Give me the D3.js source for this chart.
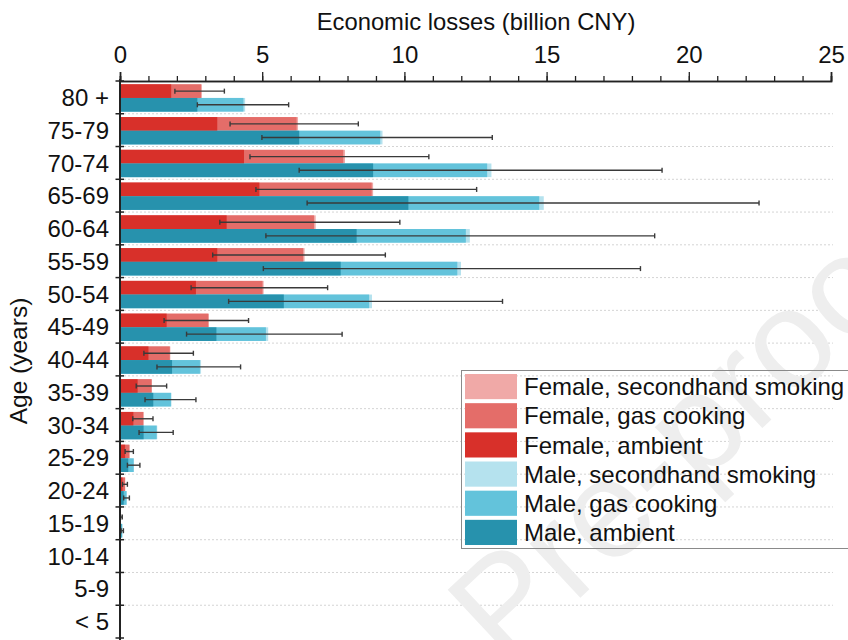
<!DOCTYPE html>
<html><head><meta charset="utf-8">
<script src="https://cdn.jsdelivr.net/npm/d3@7"></script>
<style>body{margin:0;background:#fff}svg{display:block}text{font-family:"Liberation Sans",Arial,sans-serif}</style>
</head><body>
<svg id="c" width="848" height="640"></svg>
<script>
const ages = ["80 +","75-79","70-74","65-69","60-64","55-59","50-54","45-49","40-44","35-39","30-34","25-29","20-24","15-19","10-14","5-9","< 5"];
// Female components (billion CNY)
const femaleAmbient = [1.80,3.42,4.36,4.90,3.75,3.42,2.67,1.64,1.00,0.62,0.47,0.18,0.09,0.02,0,0,0];
const femaleGas     = [1.05,2.79,3.49,3.95,3.07,3.02,2.34,1.46,0.75,0.49,0.35,0.15,0.09,0.015,0,0,0];
const femaleSHS     = [0.03,0.05,0.06,0.05,0.06,0.05,0.04,0.03,0.02,0.01,0.01,0.005,0,0,0,0,0];
const femaleLow     = [1.93,3.87,4.57,4.78,3.51,3.26,2.50,1.55,0.84,0.57,0.45,0.18,0.09,0.02,0,0,0];
const femaleHigh    = [3.67,8.38,10.86,12.54,9.84,9.33,7.30,4.52,2.58,1.64,1.16,0.47,0.26,0.08,0,0,0];
// Male components
const maleAmbient = [2.72,6.30,8.90,10.14,8.32,7.76,5.76,3.39,1.83,1.17,0.83,0.29,0.13,0.05,0,0,0];
const maleGas     = [1.62,2.85,4.01,4.60,3.84,4.10,3.00,1.74,0.98,0.62,0.46,0.19,0.10,0.03,0,0,0];
const maleSHS     = [0.06,0.08,0.15,0.16,0.14,0.13,0.10,0.08,0.04,0.02,0.02,0.01,0.005,0,0,0,0];
const maleLow     = [2.72,4.99,6.30,6.58,5.13,5.04,3.82,2.34,1.30,0.88,0.67,0.26,0.13,0.04,0,0,0];
const maleHigh    = [5.93,13.09,19.06,22.47,18.80,18.30,13.45,7.81,4.24,2.67,1.87,0.70,0.33,0.12,0,0,0];
const xTicks = [0,5,10,15,20,25];
const legendLabels = ["Female, secondhand smoking","Female, gas cooking","Female, ambient","Male, secondhand smoking","Male, gas cooking","Male, ambient"];
const colors = {
  Female:{ambient:"#d8302a",gas:"#e46d69",shs:"#f0a9a7"},
  Male:{ambient:"#2792ad",gas:"#63c3db",shs:"#b5e2ee"}
};
const legendColors = [colors.Female.shs,colors.Female.gas,colors.Female.ambient,colors.Male.shs,colors.Male.gas,colors.Male.ambient];

const svg = d3.select("#c");
const x = d3.scaleLinear().domain([0,25]).range([120,831]);
const y = d3.scaleBand().domain(ages).range([81,638]).padding(0);
const sub = d3.scaleBand().domain(["Female","Male"]).range([3.3,30.6]).padding(0);

// gridlines
svg.append("g").selectAll("line").data(ages.slice(0,-1)).join("line")
  .attr("x1",120).attr("x2",833)
  .attr("y1",d=>y(d)+y.bandwidth()).attr("y2",d=>y(d)+y.bandwidth())
  .attr("stroke","#d4d4d4").attr("stroke-width",1).attr("stroke-dasharray","2,2");

// watermark
svg.append("text").attr("transform","translate(505,668) rotate(-43)")
  .attr("font-size",140).attr("fill","#eeeeee").text("Pre-proof");

const rows = [];
ages.forEach((a,i)=>{
  rows.push({age:a,sex:"Female",ambient:femaleAmbient[i],gas:femaleGas[i],shs:femaleSHS[i],lo:femaleLow[i],hi:femaleHigh[i]});
  rows.push({age:a,sex:"Male",ambient:maleAmbient[i],gas:maleGas[i],shs:maleSHS[i],lo:maleLow[i],hi:maleHigh[i]});
});
const stack = d3.stack().keys(["ambient","gas","shs"]);
const layers = stack(rows);
const bars = svg.append("g");
[2,1,0].forEach(k=>{
  const layer = layers[k];
  bars.append("g").selectAll("rect").data(layer).join("rect")
    .attr("x",d=>x(0))
    .attr("width",d=>Math.max(0,x(d[1])-x(0)))
    .attr("y",d=>y(d.data.age)+sub(d.data.sex))
    .attr("height",sub.bandwidth())
    .attr("fill",d=>colors[d.data.sex][layer.key]);
});

// error bars
const eb = svg.append("g").attr("stroke","#3a3a3a").attr("stroke-width",1.4);
rows.filter(d=>d.hi>0).forEach(d=>{
  const cy = y(d.age)+sub(d.sex)+sub.bandwidth()/2;
  eb.append("line").attr("x1",x(d.lo)).attr("x2",x(d.hi)).attr("y1",cy).attr("y2",cy);
  eb.append("line").attr("x1",x(d.lo)).attr("x2",x(d.lo)).attr("y1",cy-2.5).attr("y2",cy+2.5);
  eb.append("line").attr("x1",x(d.hi)).attr("x2",x(d.hi)).attr("y1",cy-2.5).attr("y2",cy+2.5);
});

// top axis
const axTop = svg.append("g").attr("transform","translate(0,81)");
axTop.call(d3.axisTop(x).tickValues(d3.range(0,25.01,1)).tickSize(5).tickFormat(""));
axTop.append("g").call(d3.axisTop(x).tickValues(xTicks).tickSize(9).tickFormat(d3.format("d")).tickPadding(9));
axTop.selectAll("path.domain").attr("stroke","#222").attr("stroke-width",1.6);
axTop.selectAll("line").attr("stroke","#222").attr("stroke-width",1.3);
axTop.selectAll("text").attr("font-size",24).attr("fill","#111").attr("font-family","Liberation Sans, Arial, sans-serif");

svg.append("text").attr("x",476).attr("y",29.5).attr("text-anchor","middle")
  .attr("font-size",23.8).attr("fill","#111").text("Economic losses (billion CNY)");

// left axis
svg.append("line").attr("x1",120).attr("x2",120).attr("y1",79).attr("y2",640).attr("stroke","#222").attr("stroke-width",2);
svg.append("g").selectAll("line").data(ages.concat(["end"])).join("line")
  .attr("x1",115.5).attr("x2",124)
  .attr("y1",(d,i)=>81+i*y.step()).attr("y2",(d,i)=>81+i*y.step())
  .attr("stroke","#222").attr("stroke-width",1.5);
svg.append("g").selectAll("text").data(ages).join("text")
  .attr("x",109).attr("y",d=>y(d)+y.bandwidth()/2).attr("dy","0.36em")
  .attr("text-anchor","end").attr("font-size",24).attr("fill","#111").text(d=>d);
svg.append("text").attr("transform","translate(27,361) rotate(-90)").attr("text-anchor","middle")
  .attr("font-size",24.5).attr("fill","#111").text("Age (years)");

// legend
const lg = svg.append("g");
lg.append("rect").attr("x",461.5).attr("y",370.5).attr("width",420).attr("height",178)
  .attr("fill","none").attr("stroke","#8a8a8a").attr("stroke-width",1);
const ly = d3.scaleBand().domain(legendLabels).range([374,549]).padding(0);
lg.selectAll("rect.sw").data(legendLabels).join("rect").attr("class","sw")
  .attr("x",465).attr("y",d=>ly(d)).attr("width",52).attr("height",ly.bandwidth()-4)
  .attr("fill",(d,i)=>legendColors[i]);
lg.selectAll("text").data(legendLabels).join("text")
  .attr("x",524).attr("y",d=>ly(d)+ly.bandwidth()/2-2).attr("dy","0.36em")
  .attr("font-size",24).attr("fill","#111").text(d=>d);
</script>
</body></html>
